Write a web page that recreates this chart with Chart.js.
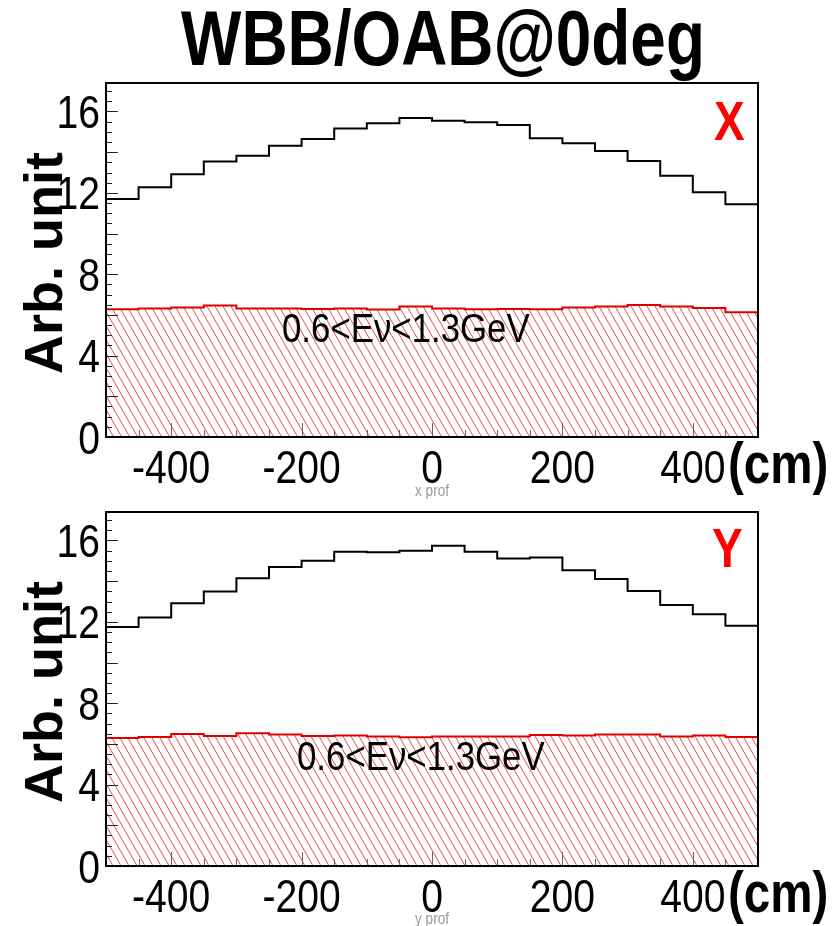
<!DOCTYPE html>
<html><head><meta charset="utf-8">
<script src="https://cdn.jsdelivr.net/npm/chart.js@4.4.0/dist/chart.umd.min.js"></script>
<style>
html,body{margin:0;padding:0;background:#fff;}
#wrap{position:relative;width:837px;height:926px;overflow:hidden;background:#fff;}
canvas{position:absolute;left:0;}
</style></head><body>
<div id="wrap">
<canvas id="c1" width="837" height="500" style="top:0px"></canvas>
<canvas id="c2" width="837" height="426" style="top:500px"></canvas>
</div>
<script>
// ---- data ----
const binLeftEdges = [-500,-450,-400,-350,-300,-250,-200,-150,-100,-50,0,50,100,150,200,250,300,350,400,450];
const xRangeMin = -500;
const xRangeMax = 500;
const yRangeMax = 17.4;
const xProfAll  = [11.70,12.28,12.91,13.54,13.83,14.31,14.65,15.16,15.42,15.68,15.54,15.47,15.34,14.68,14.44,14.06,13.57,12.84,12.03,11.44];
const xProfLowE = [6.28,6.31,6.37,6.46,6.31,6.31,6.29,6.31,6.27,6.41,6.32,6.28,6.29,6.28,6.36,6.41,6.49,6.42,6.34,6.13];
const yProfAll  = [11.75,12.21,12.91,13.49,14.14,14.70,15.00,15.45,15.42,15.50,15.74,15.45,15.11,15.16,14.54,14.11,13.52,12.83,12.37,11.81];
const yProfLowE = [6.29,6.34,6.49,6.39,6.52,6.46,6.39,6.42,6.36,6.33,6.36,6.37,6.37,6.44,6.42,6.46,6.46,6.37,6.42,6.34];
const yTickLabels = [0,4,8,12,16];
const xTickLabels = [-400,-200,0,200,400];
const titleText = 'WBB/OAB@0deg';
const yTitleText = 'Arb. unit';
const energyText = '0.6<E\u03BD<1.3GeV';
const unitText = '(cm)';

function steps(vals){
  const pts = binLeftEdges.map((e,i)=>({x:e,y:vals[i]}));
  pts.push({x:xRangeMax,y:vals[vals.length-1]});
  return pts;
}

function hatch(){
  const c = document.createElement('canvas');
  c.width = 8; c.height = 14;
  const g = c.getContext('2d');
  g.strokeStyle = 'rgba(225,30,30,0.8)';
  g.lineWidth = 1;
  [-8,0,8].forEach(x0=>{ g.beginPath(); g.moveTo(x0,0); g.lineTo(x0+8,14); g.stroke(); });
  return g.createPattern(c,'repeat');
}

function txt(ctx,s,x,y,font,color,align,sx,baseline){
  ctx.save();
  ctx.translate(x,y);
  ctx.scale(sx,1);
  ctx.font = font;
  ctx.fillStyle = color;
  ctx.textAlign = align;
  ctx.textBaseline = baseline || 'alphabetic';
  ctx.fillText(s,0,0);
  ctx.restore();
}

const SANS = '"Liberation Sans", Arial, sans-serif';

function decorPlugin(o){
  return {
    id:'decor',
    afterDatasetsDraw(chart){
      const ctx = chart.ctx, a = chart.chartArea;
      const xs = chart.scales.x, ys = chart.scales.y;
      ctx.save();
      // inside ticks y
      ctx.strokeStyle = '#222'; ctx.lineWidth = 1;
      for(let v=0; v<=yRangeMax; v+=0.5){
        const py = Math.round(ys.getPixelForValue(v))+0.5;
        const len = (v%2===0)?12:6;
        ctx.beginPath(); ctx.moveTo(a.left,py); ctx.lineTo(a.left+len,py); ctx.stroke();
      }
      ctx.strokeStyle = '#666';
      for(let v=xRangeMin; v<=xRangeMax; v+=50){
        const px = Math.round(xs.getPixelForValue(v))+0.5;
        const len = (v%200===0)?14:7;
        ctx.beginPath(); ctx.moveTo(px,a.bottom); ctx.lineTo(px,a.bottom-len); ctx.stroke();
      }
      // frame
      ctx.strokeStyle = '#000'; ctx.lineWidth = 2;
      ctx.strokeRect(a.left,a.top,a.right-a.left,a.bottom-a.top);
      ctx.restore();
      // tick labels (from the library's scale ticks)
      ys.ticks.forEach(t=>{
        txt(ctx,String(t.value),100,ys.getPixelForValue(t.value)+16.5,'46px '+SANS,'#000','right',0.85);
      });
      xs.ticks.forEach(t=>{
        txt(ctx,String(t.value),xs.getPixelForValue(t.value),a.bottom+46,'46px '+SANS,'#000','center',0.85);
      });
      // texts
      if(o.title) txt(ctx,titleText,443,65,'bold 77px '+SANS,'#000','center',0.83);
      ctx.save();
      ctx.translate(62,(a.top+a.bottom)/2+3);
      ctx.rotate(-Math.PI/2);
      ctx.font = 'bold 54px '+SANS; ctx.fillStyle='#000'; ctx.textAlign='center'; ctx.textBaseline='alphabetic';
      ctx.fillText(yTitleText,0,0);
      ctx.restore();
      txt(ctx,o.tag,o.tagX,o.tagY,'bold 56px '+SANS,'#ff0000','left',0.82);
      txt(ctx,energyText,o.eX,o.eY,'40px '+SANS,'#000','left',0.87);
      txt(ctx,unitText,728,o.cmY,'bold 58px '+SANS,'#000','left',0.82);
      txt(ctx,o.prof,432,o.profY,'16px '+SANS,'#999','center',0.85);
    }
  };
}

function makeChart(id,allVals,lowVals,padTop,xAxisH,o){
  const pattern = hatch();
  return new Chart(document.getElementById(id),{
    type:'line',
    data:{datasets:[
      {data:steps(lowVals),stepped:true,borderColor:'#e00000',borderWidth:2,backgroundColor:pattern,fill:'origin',pointRadius:0,tension:0},
      {data:steps(allVals),stepped:true,borderColor:'#000',borderWidth:2,fill:false,pointRadius:0,tension:0}
    ]},
    options:{
      responsive:false,animation:false,devicePixelRatio:1,
      layout:{padding:{left:0,right:79,top:padTop,bottom:0}},
      plugins:{legend:{display:false},tooltip:{enabled:false},title:{display:false}},
      scales:{
        x:{type:'linear',min:xRangeMin,max:xRangeMax,
          grid:{display:false,drawTicks:false},border:{display:false},
          afterBuildTicks:s=>{s.ticks = xTickLabels.map(v=>({value:v}));},
          afterFit:s=>{s.height = xAxisH;},
          ticks:{display:false}},
        y:{type:'linear',min:0,max:yRangeMax,
          grid:{display:false,drawTicks:false},border:{display:false},
          afterBuildTicks:s=>{s.ticks = yTickLabels.map(v=>({value:v}));},
          afterFit:s=>{s.width = 106;},
          ticks:{display:false}}
      }
    },
    plugins:[decorPlugin(o)]
  });
}

makeChart('c1',xProfAll,xProfLowE,83,63,{title:true,tag:'X',tagX:714,tagY:140,eX:282,eY:342,cmY:483,prof:'x prof',profY:496});
makeChart('c2',yProfAll,yProfLowE,12,60,{title:false,tag:'Y',tagX:712,tagY:67,eX:297,eY:270,cmY:412,prof:'y prof',profY:424});
</script>
</body></html>
